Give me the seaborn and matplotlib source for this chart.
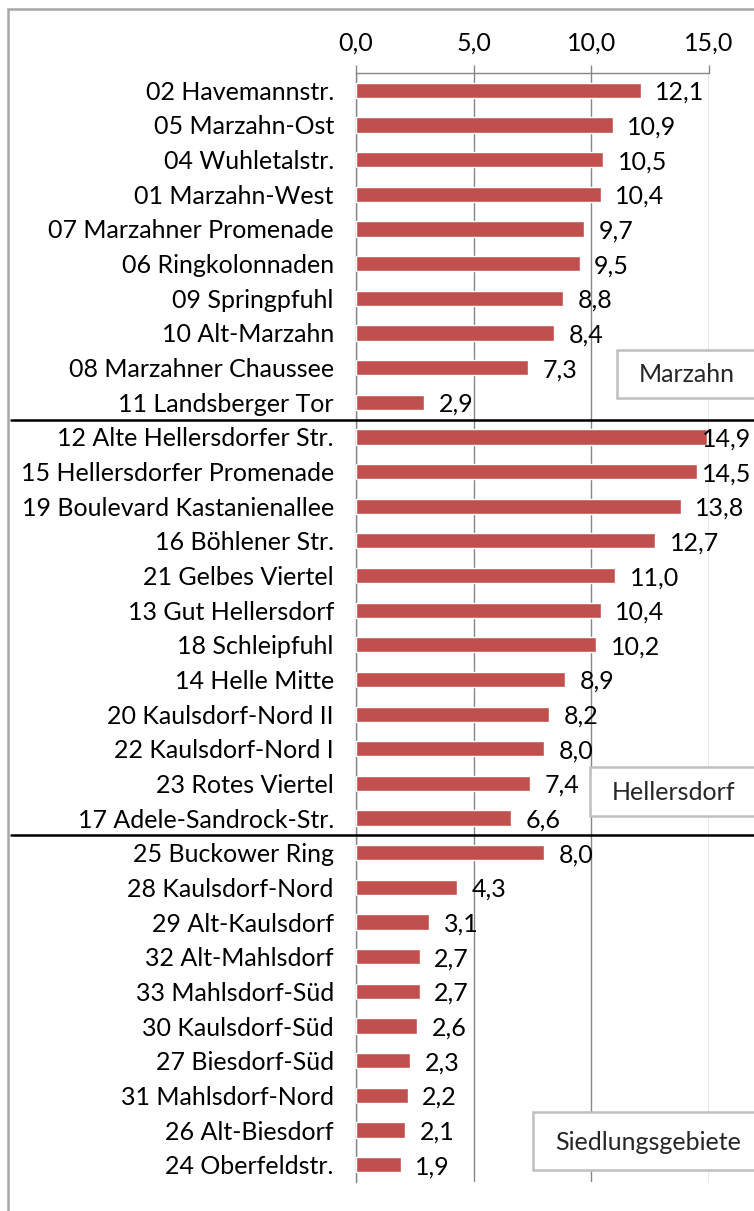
import numpy as np
import pandas as pd
import matplotlib.pyplot as plt
import matplotlib.transforms as mtransforms
import seaborn as sns

sns.set_style("white")
plt.rcParams["font.family"] = ["Lato", "DejaVu Sans"]

# data
marzahn = [
    "02 Havemannstr.", "05 Marzahn-Ost", "04 Wuhletalstr.", "01 Marzahn-West",
    "07 Marzahner Promenade", "06 Ringkolonnaden", "09 Springpfuhl",
    "10 Alt-Marzahn", "08 Marzahner Chaussee", "11 Landsberger Tor",
]
marzahn_values = [12.1, 10.9, 10.5, 10.4, 9.7, 9.5, 8.8, 8.4, 7.3, 2.9]

hellersdorf = [
    "12 Alte Hellersdorfer Str.", "15 Hellersdorfer Promenade",
    "19 Boulevard Kastanienallee", "16 Böhlener Str.", "21 Gelbes Viertel",
    "13 Gut Hellersdorf", "18 Schleipfuhl", "14 Helle Mitte",
    "20 Kaulsdorf-Nord II", "22 Kaulsdorf-Nord I", "23 Rotes Viertel",
    "17 Adele-Sandrock-Str.",
]
hellersdorf_values = [14.9, 14.5, 13.8, 12.7, 11.0, 10.4, 10.2, 8.9, 8.2, 8.0, 7.4, 6.6]

siedlung = [
    "25 Buckower Ring", "28 Kaulsdorf-Nord", "29 Alt-Kaulsdorf",
    "32 Alt-Mahlsdorf", "33 Mahlsdorf-Süd", "30 Kaulsdorf-Süd",
    "27 Biesdorf-Süd", "31 Mahlsdorf-Nord", "26 Alt-Biesdorf", "24 Oberfeldstr.",
]
siedlung_values = [8.0, 4.3, 3.1, 2.7, 2.7, 2.6, 2.3, 2.2, 2.1, 1.9]

group_names = ["Marzahn", "Hellersdorf", "Siedlungsgebiete"]
x_ticks = [0, 5, 10, 15]

df = pd.DataFrame({
    "gebiet": marzahn + hellersdorf + siedlung,
    "wert": marzahn_values + hellersdorf_values + siedlung_values,
})

BAR = "#C0504D"
GRID = "#868686"
FS = 18
W, H = 754, 1211

fig = plt.figure(figsize=(W / 100, H / 100), dpi=100)
ax = fig.add_axes([356 / W, 29 / H, 353 / W, 1109 / H])

sns.barplot(data=df, x="wert", y="gebiet", orient="h", color=BAR,
            saturation=1, width=0.44, ax=ax, zorder=3)

ax.set_xlim(0, 15)
ax.set_ylim(len(df) - 0.5, -0.5)
ax.set_xlabel("")
ax.set_ylabel("")

# x axis on top, comma decimal
ax.xaxis.tick_top()
ax.set_xticks(x_ticks)
ax.set_xticklabels([f"{t:.1f}".replace(".", ",") for t in x_ticks])
ax.tick_params(axis="x", length=6, width=1, color=GRID, labelsize=FS,
               pad=7, labelcolor="black")
ax.grid(axis="x", color=GRID, linewidth=1, zorder=0)
ax.set_axisbelow(True)

# y ticks between categories, labels at centers
ax.set_yticks(np.arange(len(df)))
ax.set_yticklabels(df["gebiet"])
ax.tick_params(axis="y", which="major", length=0, labelsize=FS, pad=16,
               labelcolor="black")
ax.set_yticks(np.arange(-0.5, len(df)), minor=True)
ax.tick_params(axis="y", which="minor", length=6, width=1, color=GRID)

for side in ["right", "bottom"]:
    ax.spines[side].set_visible(False)
for side in ["left", "top"]:
    ax.spines[side].set_color(GRID)
    ax.spines[side].set_linewidth(1)

# value labels, pushed back inside the chart near the right edge
for i, v in enumerate(df["wert"]):
    ax.text(min(v + 0.62, 14.72), i + 0.06, f"{v:.1f}".replace(".", ","),
            va="center", ha="left", fontsize=FS, color="black",
            clip_on=False, zorder=5)

# group separators across the whole figure
blend = mtransforms.blended_transform_factory(fig.transFigure, ax.transData)
bounds = [len(marzahn) - 0.5, len(marzahn) + len(hellersdorf) - 0.5]
for b in bounds:
    ax.plot([11 / W, 1.0], [b, b], color="black", linewidth=1.8,
            transform=blend, clip_on=False, zorder=6)

# group label boxes (left, top, bottom in pixels; they run off the right edge)
boxes = [(617, 350, 398), (590, 767, 816), (533, 1112, 1170)]
for name, (left, top, bottom) in zip(group_names, boxes):
    rect = plt.Rectangle((left / W, 1 - bottom / H), (W + 10 - left) / W,
                         (bottom - top) / H, transform=fig.transFigure,
                         facecolor="white", edgecolor="#BFBFBF",
                         linewidth=1.8, zorder=7)
    fig.patches.append(rect)
    fig.text((left + 22) / W, 1 - (top + bottom) / 2 / H - 1 / H, name,
             ha="left", va="center", fontsize=FS, zorder=8)

# outer frame of the chart (left and top edges visible)
frame = plt.Rectangle((8 / W, -0.1), 1.2, 1.1 - 9 / H, transform=fig.transFigure,
                      fill=False, edgecolor="#A6A6A6", linewidth=1.8, zorder=10)
fig.patches.append(frame)

fig.savefig("out.png", dpi=100)
